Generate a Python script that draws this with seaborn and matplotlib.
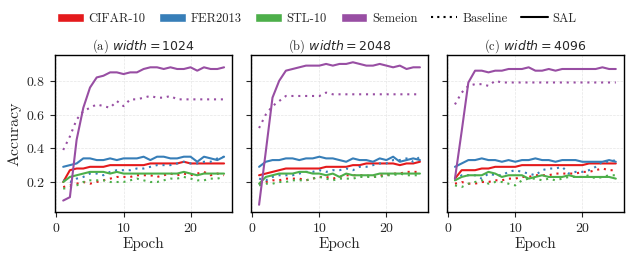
import numpy as np
import pandas as pd
import seaborn as sns
import matplotlib.pyplot as plt
from matplotlib.patches import Patch
from matplotlib.lines import Line2D

epochs = list(range(1, 26))
datasets = ['CIFAR-10', 'FER2013', 'STL-10', 'Semeion']
widths = [1024, 2048, 4096]

# (a) width = 1024
sal_1024 = {
    'CIFAR-10': [0.20, 0.27, 0.28, 0.28, 0.29, 0.29, 0.29, 0.30, 0.30, 0.30, 0.30, 0.30, 0.30,
                 0.31, 0.31, 0.31, 0.31, 0.31, 0.32, 0.31, 0.31, 0.31, 0.31, 0.31, 0.31],
    'FER2013': [0.29, 0.30, 0.31, 0.34, 0.34, 0.33, 0.33, 0.34, 0.33, 0.34, 0.34, 0.34, 0.35,
                0.33, 0.35, 0.35, 0.34, 0.34, 0.35, 0.35, 0.32, 0.35, 0.34, 0.33, 0.35],
    'STL-10': [0.20, 0.23, 0.24, 0.25, 0.26, 0.26, 0.26, 0.25, 0.26, 0.25, 0.25, 0.25, 0.25,
               0.25, 0.25, 0.25, 0.25, 0.25, 0.26, 0.25, 0.24, 0.25, 0.25, 0.25, 0.25],
    'Semeion': [0.09, 0.11, 0.45, 0.64, 0.76, 0.82, 0.83, 0.85, 0.85, 0.84, 0.85, 0.85, 0.87,
                0.88, 0.88, 0.87, 0.88, 0.87, 0.87, 0.88, 0.86, 0.88, 0.87, 0.87, 0.88],
}
base_1024 = {
    'CIFAR-10': [0.17, 0.18, 0.19, 0.20, 0.19, 0.20, 0.21, 0.22, 0.23, 0.23, 0.23, 0.24, 0.24,
                 0.24, 0.23, 0.24, 0.25, 0.24, 0.25, 0.24, 0.25, 0.26, 0.24, 0.25, 0.24],
    'FER2013': [0.21, 0.20, 0.22, 0.23, 0.25, 0.25, 0.24, 0.26, 0.27, 0.27, 0.27, 0.28, 0.28,
                0.29, 0.30, 0.30, 0.30, 0.31, 0.32, 0.31, 0.31, 0.32, 0.32, 0.34, 0.35],
    'STL-10': [0.16, 0.17, 0.18, 0.20, 0.21, 0.21, 0.21, 0.20, 0.20, 0.20, 0.21, 0.22, 0.21,
               0.20, 0.20, 0.21, 0.22, 0.22, 0.23, 0.22, 0.21, 0.21, 0.22, 0.22, 0.23],
    'Semeion': [0.39, 0.47, 0.57, 0.62, 0.64, 0.66, 0.65, 0.64, 0.68, 0.65, 0.69, 0.69, 0.70,
                0.71, 0.70, 0.70, 0.71, 0.69, 0.69, 0.69, 0.69, 0.69, 0.69, 0.69, 0.69],
}

# (b) width = 2048
sal_2048 = {
    'CIFAR-10': [0.24, 0.25, 0.26, 0.27, 0.28, 0.28, 0.28, 0.28, 0.28, 0.28, 0.29, 0.29, 0.29,
                 0.29, 0.30, 0.30, 0.31, 0.31, 0.31, 0.31, 0.31, 0.30, 0.31, 0.31, 0.32],
    'FER2013': [0.29, 0.32, 0.33, 0.33, 0.34, 0.34, 0.33, 0.34, 0.34, 0.35, 0.34, 0.34, 0.33,
                0.32, 0.34, 0.33, 0.33, 0.32, 0.34, 0.33, 0.35, 0.32, 0.33, 0.34, 0.33],
    'STL-10': [0.19, 0.23, 0.24, 0.25, 0.25, 0.25, 0.26, 0.26, 0.25, 0.25, 0.24, 0.25, 0.23,
               0.25, 0.24, 0.24, 0.24, 0.24, 0.25, 0.25, 0.25, 0.25, 0.25, 0.25, 0.25],
    'Semeion': [0.065, 0.38, 0.70, 0.80, 0.86, 0.87, 0.88, 0.89, 0.89, 0.89, 0.90, 0.89, 0.90,
                0.90, 0.91, 0.90, 0.89, 0.89, 0.90, 0.89, 0.88, 0.89, 0.87, 0.88, 0.88],
}
base_2048 = {
    'CIFAR-10': [0.19, 0.20, 0.21, 0.21, 0.22, 0.22, 0.22, 0.21, 0.22, 0.23, 0.23, 0.22, 0.23,
                 0.24, 0.24, 0.24, 0.24, 0.23, 0.24, 0.24, 0.25, 0.25, 0.26, 0.26, 0.26],
    'FER2013': [0.22, 0.21, 0.23, 0.24, 0.24, 0.24, 0.25, 0.26, 0.26, 0.27, 0.26, 0.27, 0.27,
                0.28, 0.27, 0.29, 0.29, 0.30, 0.31, 0.31, 0.33, 0.33, 0.34, 0.32, 0.35],
    'STL-10': [0.18, 0.19, 0.19, 0.20, 0.20, 0.21, 0.21, 0.21, 0.22, 0.23, 0.22, 0.21, 0.22,
               0.22, 0.22, 0.23, 0.23, 0.23, 0.23, 0.24, 0.24, 0.25, 0.24, 0.24, 0.24],
    'Semeion': [0.52, 0.60, 0.65, 0.68, 0.71, 0.71, 0.71, 0.71, 0.71, 0.71, 0.73, 0.72, 0.72,
                0.72, 0.72, 0.72, 0.72, 0.72, 0.72, 0.72, 0.72, 0.72, 0.72, 0.72, 0.72],
}

# (c) width = 4096
sal_4096 = {
    'CIFAR-10': [0.22, 0.27, 0.27, 0.27, 0.28, 0.28, 0.29, 0.29, 0.29, 0.29, 0.30, 0.30, 0.30,
                 0.30, 0.30, 0.30, 0.30, 0.30, 0.30, 0.30, 0.31, 0.31, 0.31, 0.31, 0.31],
    'FER2013': [0.29, 0.31, 0.33, 0.33, 0.34, 0.33, 0.33, 0.32, 0.33, 0.32, 0.33, 0.33, 0.34,
                0.33, 0.33, 0.32, 0.33, 0.33, 0.33, 0.32, 0.32, 0.32, 0.32, 0.33, 0.32],
    'STL-10': [0.21, 0.23, 0.24, 0.24, 0.24, 0.26, 0.25, 0.23, 0.24, 0.24, 0.24, 0.22, 0.23,
               0.24, 0.23, 0.23, 0.23, 0.24, 0.23, 0.23, 0.23, 0.23, 0.23, 0.23, 0.22],
    'Semeion': [0.22, 0.50, 0.79, 0.86, 0.86, 0.85, 0.86, 0.86, 0.87, 0.87, 0.87, 0.88, 0.86,
                0.86, 0.87, 0.86, 0.87, 0.87, 0.87, 0.87, 0.87, 0.87, 0.88, 0.87, 0.87],
}
base_4096 = {
    'CIFAR-10': [0.19, 0.20, 0.19, 0.19, 0.20, 0.20, 0.21, 0.21, 0.22, 0.22, 0.23, 0.23, 0.24,
                 0.24, 0.24, 0.25, 0.25, 0.25, 0.25, 0.26, 0.26, 0.27, 0.28, 0.27, 0.27],
    'FER2013': [0.21, 0.24, 0.24, 0.24, 0.22, 0.25, 0.24, 0.24, 0.26, 0.27, 0.26, 0.25, 0.24,
                0.27, 0.28, 0.28, 0.29, 0.25, 0.26, 0.26, 0.27, 0.29, 0.32, 0.32, 0.33],
    'STL-10': [0.18, 0.17, 0.19, 0.20, 0.21, 0.19, 0.20, 0.20, 0.19, 0.18, 0.21, 0.22, 0.22,
               0.21, 0.22, 0.21, 0.22, 0.23, 0.23, 0.23, 0.24, 0.22, 0.23, 0.24, 0.24],
    'Semeion': [0.66, 0.73, 0.77, 0.78, 0.78, 0.77, 0.80, 0.79, 0.79, 0.79, 0.79, 0.79, 0.79,
                0.79, 0.79, 0.79, 0.79, 0.79, 0.79, 0.79, 0.79, 0.79, 0.79, 0.79, 0.79],
}

results = {1024: (base_1024, sal_1024), 2048: (base_2048, sal_2048), 4096: (base_4096, sal_4096)}

colors = dict(zip(datasets, sns.color_palette('Set1', 4)))

sns.set_style('ticks')
plt.rcParams['font.family'] = 'serif'
plt.rcParams['font.serif'] = ['cmr10']
plt.rcParams['axes.formatter.use_mathtext'] = True
plt.rcParams['mathtext.fontset'] = 'dejavusans'
plt.rcParams['font.size'] = 10

fig, axes = plt.subplots(1, 3, figsize=(6.34, 2.6), dpi=100, sharey=True)
fig.subplots_adjust(left=0.087, right=0.984, top=0.788, bottom=0.185, wspace=0.107)

for i, (ax, w) in enumerate(zip(axes, widths)):
    base, sal = results[w]
    rows = []
    for method, res in [('Baseline', base), ('SAL', sal)]:
        for d in datasets:
            for e, v in zip(epochs, res[d]):
                rows.append({'epoch': e, 'acc': v, 'dataset': d, 'method': method})
    df = pd.DataFrame(rows)
    sns.lineplot(data=df, x='epoch', y='acc', hue='dataset', style='method',
                 palette=colors, dashes={'Baseline': (1, 2.3), 'SAL': ''},
                 linewidth=1.5, ax=ax, legend=False)
    ax.set_title('(%s) $width = %d$' % ('abc'[i], w), fontsize=9, pad=4)
    ax.set_xlabel('Epoch', fontsize=11, labelpad=2)
    ax.set_ylabel('Accuracy' if i == 0 else '', fontsize=11.5, labelpad=3)
    ax.set_xticks([0, 10, 20])
    ax.set_yticks([0.2, 0.4, 0.6, 0.8])
    ax.tick_params(labelsize=10)
    ax.grid(True, color='#e6e6e6', linestyle='--', linewidth=0.5)
    for s in ax.spines.values():
        s.set_color('black')
        s.set_linewidth(1.0)

handles = [Patch(facecolor=colors[d], label=d) for d in datasets]
handles += [Line2D([], [], color='black', linestyle=(0, (1, 2)), lw=1.5, label='Baseline'),
            Line2D([], [], color='black', lw=1.5, label='SAL')]
fig.legend(handles=handles, loc='center', bbox_to_anchor=(0.5, 0.927), ncol=6,
           frameon=False, handlelength=2.1, handleheight=0.8, handletextpad=0.4,
           columnspacing=1.1, fontsize=9)

fig.savefig('out.png', dpi=100)
